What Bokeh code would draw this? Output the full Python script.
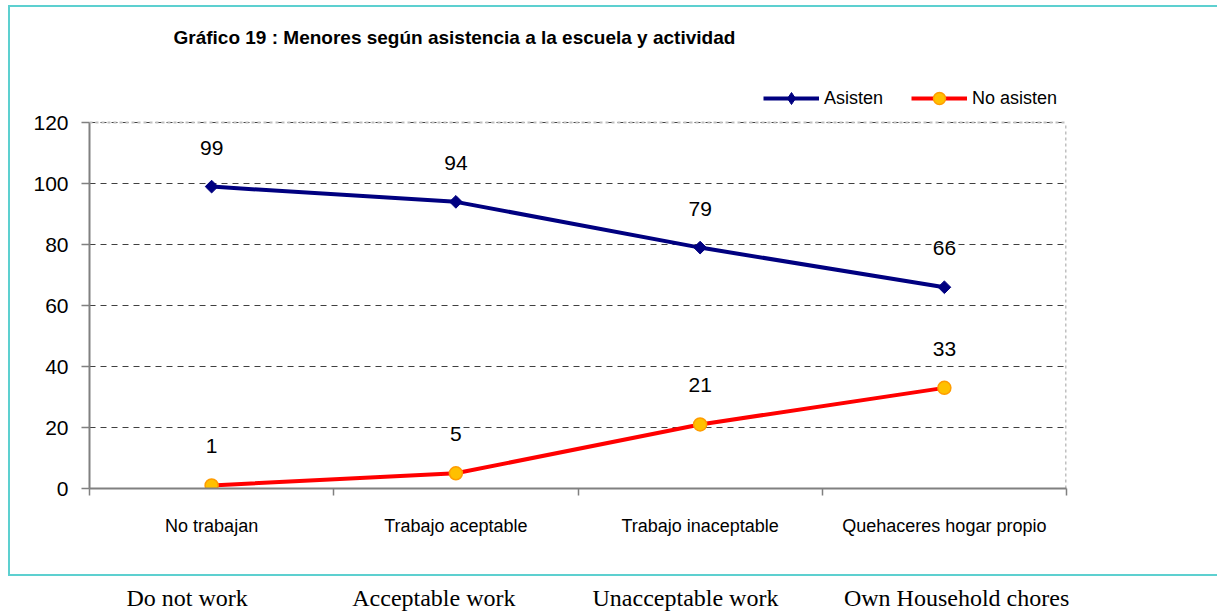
import math

from bokeh.plotting import figure
from bokeh.models import (Range1d, FixedTicker, LinearAxis, Legend, LegendItem,
                          InlineStyleSheet, Span)
from bokeh.core.properties import value
from bokeh.embed import file_html
from bokeh.resources import INLINE

# --- data -------------------------------------------------------------
categories = ["No trabajan", "Trabajo aceptable", "Trabajo inaceptable",
              "Quehaceres hogar propio"]
english = ["Do not work", "Acceptable work", "Unacceptable work",
           "Own Household chores"]
asisten = [99, 94, 79, 66]
no_asisten = [1, 5, 21, 33]
y_ticks = [0, 20, 40, 60, 80, 100, 120]

title_text = "Gráfico 19 : Menores según asistencia a la escuela y actividad"

# --- styling ----------------------------------------------------------
SANS = "Liberation Sans"
SERIF = "Liberation Serif"
NAVY = "#000080"
RED = "#ff0000"
AMBER = "#ffc000"
TEAL = "#5dd0d0"
AXIS_GREY = "#808080"
BORDER_GREY = "#c0c0c0"

Y_MAX = y_ticks[-1]
# headroom above the last tick so the legend row fits inside the frame
Y_TOP = 139.7

# category centres sit in the middle of each unit-wide slot
xs = [i + 0.5 for i in range(len(categories))]
slot_edges = list(range(len(categories) + 1))
X_MAX = len(categories)
# horizontal nudge (in slot units) for the English captions under the chart
en_shift = [-0.10, -0.09, -0.06, 0.05]
en_x = [x + s for x, s in zip(xs, en_shift)]

# teal box framing the chart area (drawn over the canvas with CSS)
frame_css = InlineStyleSheet(css=f"""
:host {{ position: relative; }}
:host::after {{
  content: "";
  position: absolute;
  left: 8px; top: 5px; right: 0px; height: 571px;
  border: 2px solid {TEAL}; border-right: none;
  box-sizing: border-box;
  pointer-events: none;
  z-index: 10;
}}
""")

p = figure(width=1217, height=613, output_backend="svg", toolbar_location=None,
           x_range=Range1d(0, X_MAX), y_range=Range1d(0, Y_TOP),
           min_border_left=89, min_border_right=151,
           min_border_top=62, min_border_bottom=125,
           stylesheets=[frame_css])
p.background_fill_color = "white"
p.border_fill_color = "white"
p.outline_line_color = None

p.title.text = title_text
p.title.align = "left"
p.title.offset = 84
p.title.standoff = 29
p.title.text_font = SANS
p.title.text_font_style = "bold"
p.title.text_font_size = "19px"
p.title.text_color = "black"

# x axis: labels at slot centres, small ticks at slot edges
xa = p.xaxis[0]
xa.ticker = FixedTicker(ticks=xs, minor_ticks=slot_edges)
xa.major_label_overrides = {x: c for x, c in zip(xs, categories)}
xa.major_tick_in = 0
xa.major_tick_out = 0
xa.minor_tick_in = 0
xa.minor_tick_out = 7
xa.minor_tick_line_color = AXIS_GREY
xa.minor_tick_line_width = 1.5
xa.axis_line_color = AXIS_GREY
xa.axis_line_width = 2
xa.major_label_standoff = 20
xa.major_label_text_font = SANS
xa.major_label_text_font_size = "18px"
xa.major_label_text_color = "black"

# English captions as a second, line-free axis underneath
en_axis = LinearAxis(ticker=FixedTicker(ticks=en_x, minor_ticks=[]),
                     major_label_overrides={x: t for x, t in zip(en_x, english)},
                     axis_line_color=None, major_tick_line_color=None,
                     minor_tick_line_color=None, major_tick_in=0, major_tick_out=0,
                     major_label_standoff=46,
                     major_label_text_font=SERIF,
                     major_label_text_font_size="24px",
                     major_label_text_color="black")
p.add_layout(en_axis, "below")

ya = p.yaxis[0]
ya.ticker = FixedTicker(ticks=y_ticks, minor_ticks=[])
ya.bounds = (0, Y_MAX)
ya.major_tick_in = 0
ya.major_tick_out = 8
ya.major_tick_line_color = AXIS_GREY
ya.major_tick_line_width = 1.5
ya.axis_line_color = AXIS_GREY
ya.axis_line_width = 2
ya.major_label_standoff = 13
ya.major_label_text_font = SANS
ya.major_label_text_font_size = "21px"
ya.major_label_text_color = "black"

p.xgrid.grid_line_color = None
p.ygrid.grid_line_color = "#404040"
p.ygrid.grid_line_dash = "6 5"
p.ygrid.grid_line_width = 1

# dotted plot-area border along the top and the right
p.add_layout(Span(location=Y_MAX, dimension="width", line_color=BORDER_GREY,
                  line_dash="3 3", line_width=2))
p.segment(x0=[X_MAX], y0=[0], x1=[X_MAX], y1=[Y_MAX], line_color=BORDER_GREY,
          line_dash="3 3", line_width=3)

# --- series -----------------------------------------------------------
l1 = p.line(xs, asisten, line_color=NAVY, line_width=4)
# small diamonds sit under the rotated squares; they supply the legend swatch
key_diamond = p.scatter(xs, asisten, marker="diamond", size=8,
                        fill_color=NAVY, line_color=NAVY)
p.scatter(xs, asisten, marker="square", angle=math.pi / 4, size=9,
          fill_color=NAVY, line_color=NAVY)
l2 = p.line(xs, no_asisten, line_color=RED, line_width=4)
m2 = p.scatter(xs, no_asisten, marker="circle", size=13,
               fill_color=AMBER, line_color="#ff9c00", line_width=1.5)

for series in (asisten, no_asisten):
    p.text(x=xs, y=series, text=[str(v) for v in series],
           text_align="center", text_baseline="middle", y_offset=-39,
           text_font=value(SANS), text_font_size="21px", text_color="black")

legend = Legend(items=[LegendItem(label="Asisten", renderers=[l1, key_diamond]),
                       LegendItem(label="No asisten", renderers=[l2, m2])],
                orientation="horizontal", location=(674, 375),
                glyph_width=56, glyph_height=30, label_height=20,
                label_standoff=5, spacing=28, padding=24, margin=0,
                border_line_color=None, background_fill_color="white",
                background_fill_alpha=1.0,
                label_text_font=SANS, label_text_font_size="18px",
                label_text_color="black")
p.add_layout(legend)

open("out.html", "w").write(file_html(p, INLINE))
